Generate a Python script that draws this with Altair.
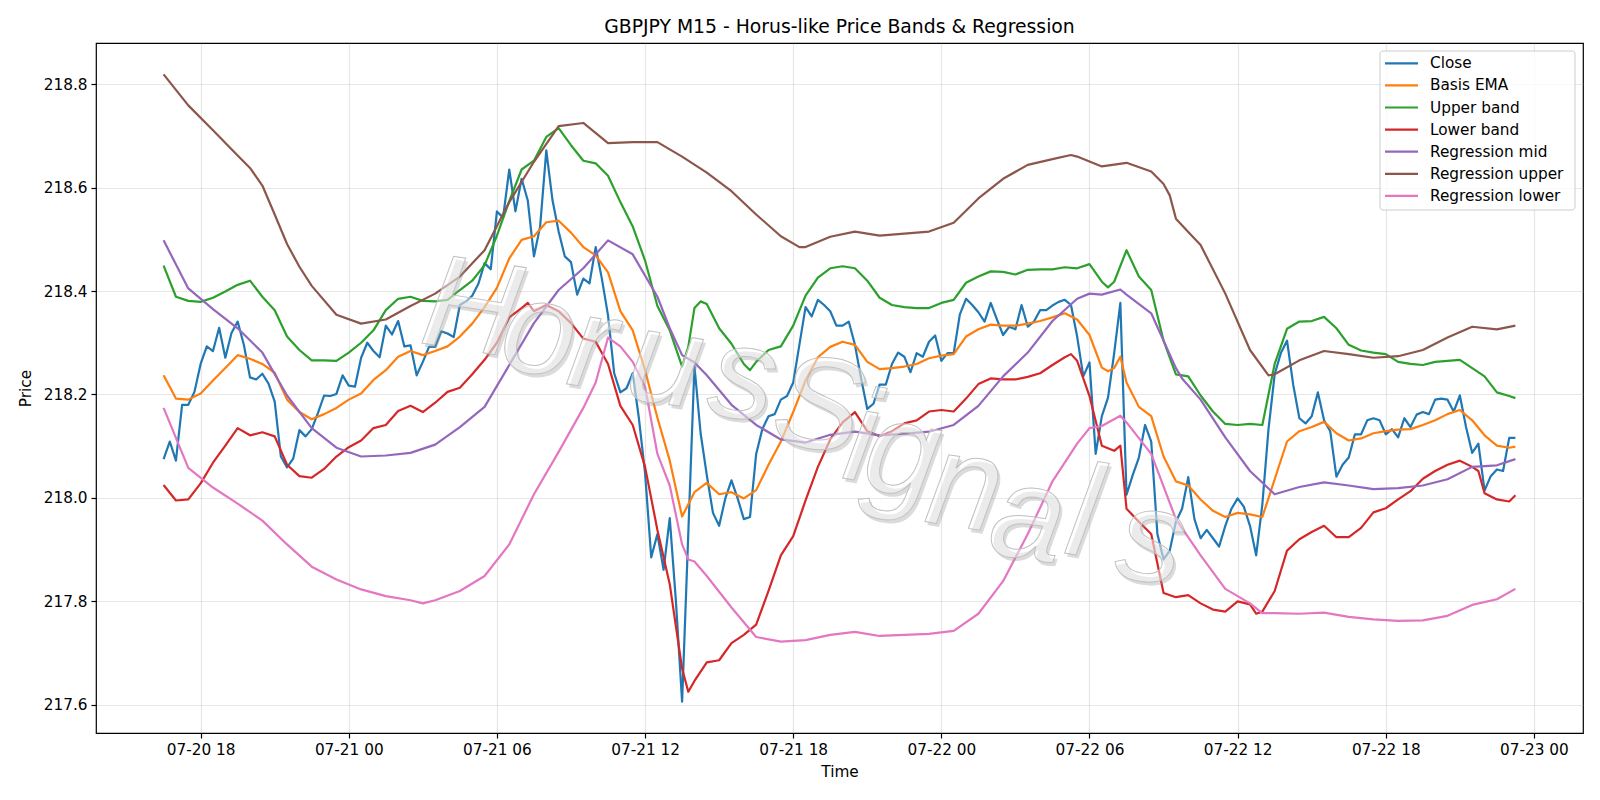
import altair as alt
import pandas as pd

# 15-minute bars, first bar at 07-20 16:30
START = pd.Timestamp("2025-07-20 16:30")
STEP = pd.Timedelta(minutes=15)

close = [
    218.075, 218.109, 218.072, 218.180, 218.180, 218.205, 218.259, 218.293, 218.284, 218.329,
    218.271, 218.319, 218.341, 218.296, 218.233, 218.229, 218.240, 218.221, 218.186, 218.080,
    218.059, 218.076, 218.131, 218.119, 218.133, 218.164, 218.198, 218.197, 218.201, 218.237,
    218.217, 218.215, 218.271, 218.300, 218.284, 218.272, 218.333, 218.316, 218.342, 218.293,
    218.295, 218.237, 218.263, 218.292, 218.292, 218.322, 218.318, 218.311, 218.373, 218.380,
    218.391, 218.414, 218.454, 218.442, 218.554, 218.542, 218.635, 218.554, 218.617, 218.575,
    218.467, 218.525, 218.672, 218.576, 218.515, 218.467, 218.456, 218.393, 218.424, 218.415,
    218.485, 218.424, 218.353, 218.241, 218.204, 218.212, 218.241, 218.154, 218.048, 217.885,
    217.930, 217.861, 217.961, 217.800, 217.606, 217.930, 218.255, 218.125, 218.044, 217.971,
    217.946, 217.999, 218.034, 217.999, 217.959, 217.963, 218.085, 218.133, 218.158, 218.162,
    218.190, 218.197, 218.223, 218.296, 218.369, 218.351, 218.383, 218.373, 218.361, 218.333,
    218.333, 218.341, 218.296, 218.231, 218.172, 218.182, 218.219, 218.219, 218.259, 218.281,
    218.273, 218.243, 218.280, 218.273, 218.302, 218.314, 218.265, 218.280, 218.280, 218.355,
    218.385, 218.373, 218.359, 218.341, 218.377, 218.345, 218.315, 218.331, 218.326, 218.373,
    218.331, 218.341, 218.363, 218.363, 218.372, 218.379, 218.383, 218.373, 218.312, 218.235,
    218.262, 218.085, 218.158, 218.194, 218.280, 218.377, 218.006, 218.044, 218.078, 218.141,
    218.109, 217.930, 217.881, 217.898, 217.954, 217.979, 218.040, 217.959, 217.922, 217.938,
    217.922, 217.906, 217.946, 217.979, 217.999, 217.983, 217.946, 217.889, 217.987, 218.133,
    218.239, 218.280, 218.304, 218.219, 218.154, 218.144, 218.158, 218.204, 218.150, 218.129,
    218.041, 218.064, 218.078, 218.123, 218.123, 218.150, 218.154, 218.150, 218.123, 218.133,
    218.117, 218.154, 218.137, 218.161, 218.166, 218.162, 218.190, 218.192, 218.190, 218.167,
    218.198, 218.137, 218.087, 218.105, 218.014, 218.042, 218.055, 218.052, 218.116, 218.116,
]
close_bars = list(range(len(close)))

ema_bars = [
    0, 2, 4, 6, 8, 10, 12, 14, 16, 18, 20, 22, 24, 26, 28, 30, 32, 34, 36, 38,
    40, 42, 44, 46, 48, 50, 52, 54, 56, 58, 60, 62, 64, 66, 68, 70, 72, 74, 76, 78,
    80, 82, 84, 86, 88, 90, 92, 94, 96, 98, 100, 102, 104, 106, 108, 110, 112, 114, 116, 118,
    120, 122, 124, 126, 128, 130, 132, 134, 136, 138, 140, 142, 144, 146, 148, 150, 152, 153, 154, 155,
    156, 158, 160, 162, 164, 166, 168, 170, 172, 174, 176, 178, 180, 182, 184, 186, 188, 190, 192, 194,
    196, 198, 200, 202, 204, 206, 208, 210, 212, 214, 216, 218, 219,
]
ema = [
    218.237, 218.192, 218.190, 218.202, 218.227, 218.251, 218.276, 218.269, 218.259, 218.242,
    218.190, 218.166, 218.152, 218.162, 218.174, 218.190, 218.202, 218.228, 218.247, 218.273,
    218.284, 218.276, 218.284, 218.293, 218.312, 218.337, 218.369, 218.406, 218.463, 218.499,
    218.506, 218.533, 218.536, 218.513, 218.485, 218.469, 218.436, 218.361, 218.324, 218.247,
    218.155, 218.072, 217.964, 218.011, 218.029, 218.007, 218.011, 217.999, 218.015, 218.064,
    218.109, 218.166, 218.227, 218.272, 218.292, 218.302, 218.296, 218.263, 218.249, 218.251,
    218.254, 218.259, 218.270, 218.275, 218.278, 218.312, 218.326, 218.335, 218.333, 218.333,
    218.337, 218.342, 218.349, 218.357, 218.345, 218.315, 218.252, 218.245, 218.251, 218.273,
    218.223, 218.176, 218.158, 218.080, 218.032, 218.024, 217.997, 217.975, 217.963, 217.971,
    217.968, 217.963, 218.036, 218.109, 218.129, 218.137, 218.147, 218.125, 218.111, 218.115,
    218.125, 218.129, 218.132, 218.133, 218.141, 218.150, 218.162, 218.170, 218.150, 218.121,
    218.101, 218.097, 218.099,
]

upper_bars = [
    0, 2, 4, 6, 8, 10, 12, 14, 16, 18, 20, 22, 24, 26, 28, 30, 32, 34, 36, 38,
    40, 42, 44, 46, 48, 50, 52, 54, 56, 58, 60, 62, 64, 66, 68, 70, 72, 74, 76, 78,
    80, 82, 84, 85, 86, 87, 88, 90, 92, 94, 95, 96, 98, 100, 102, 104, 106, 108, 110, 112,
    114, 116, 118, 120, 122, 124, 126, 128, 130, 132, 134, 136, 138, 140, 142, 144, 146, 148, 150, 152,
    153, 154, 156, 158, 160, 162, 164, 166, 168, 170, 172, 174, 176, 178, 180, 182, 184, 186, 188, 190,
    192, 194, 196, 198, 200, 202, 204, 206, 208, 210, 212, 214, 216, 218, 219,
]
upper = [
    218.449, 218.389, 218.381, 218.379, 218.387, 218.399, 218.412, 218.420, 218.389, 218.363,
    218.312, 218.286, 218.266, 218.266, 218.265, 218.281, 218.300, 218.324, 218.363, 218.385,
    218.389, 218.381, 218.380, 218.383, 218.402, 218.420, 218.450, 218.507, 218.574, 218.635,
    218.652, 218.698, 218.715, 218.682, 218.652, 218.647, 218.623, 218.572, 218.525, 218.459,
    218.371, 218.324, 218.254, 218.292, 218.367, 218.380, 218.375, 218.328, 218.298, 218.259,
    218.247, 218.263, 218.286, 218.293, 218.333, 218.391, 218.426, 218.444, 218.448, 218.444,
    218.420, 218.387, 218.373, 218.369, 218.367, 218.367, 218.377, 218.383, 218.416, 218.428,
    218.438, 218.437, 218.432, 218.441, 218.442, 218.442, 218.446, 218.444, 218.452, 218.418,
    218.407, 218.418, 218.479, 218.428, 218.402, 218.304, 218.239, 218.235, 218.198, 218.167,
    218.143, 218.141, 218.143, 218.141, 218.259, 218.327, 218.341, 218.342, 218.350, 218.328,
    218.296, 218.285, 218.281, 218.278, 218.263, 218.259, 218.257, 218.263, 218.265, 218.267,
    218.251, 218.235, 218.204, 218.197, 218.193,
]

lower_bars = [
    0, 2, 4, 6, 8, 10, 12, 14, 16, 18, 20, 22, 24, 26, 28, 30, 32, 34, 36, 38,
    40, 42, 44, 46, 48, 50, 52, 54, 56, 58, 59, 60, 62, 64, 66, 68, 70, 72, 74, 76,
    78, 80, 82, 84, 85, 86, 88, 90, 92, 94, 96, 98, 100, 102, 104, 106, 108, 110, 112, 114,
    116, 118, 120, 122, 124, 126, 128, 130, 132, 134, 136, 138, 140, 142, 144, 146, 147, 148, 150, 152,
    154, 155, 156, 158, 160, 162, 164, 166, 168, 170, 172, 174, 176, 177, 178, 180, 182, 184, 186, 188,
    190, 192, 194, 196, 198, 200, 202, 204, 206, 208, 210, 212, 213, 214, 216, 218, 219,
]
lower = [
    218.025, 217.995, 217.997, 218.028, 218.068, 218.101, 218.135, 218.121, 218.127, 218.119,
    218.064, 218.042, 218.039, 218.056, 218.080, 218.098, 218.111, 218.135, 218.141, 218.168,
    218.178, 218.166, 218.184, 218.205, 218.213, 218.239, 218.267, 218.300, 218.349, 218.367,
    218.377, 218.361, 218.373, 218.361, 218.338, 218.308, 218.302, 218.259, 218.178, 218.141,
    218.060, 217.938, 217.833, 217.670, 217.625, 217.646, 217.682, 217.686, 217.719, 217.735,
    217.755, 217.820, 217.889, 217.926, 217.995, 218.060, 218.113, 218.146, 218.166, 218.129,
    218.119, 218.129, 218.144, 218.150, 218.167, 218.170, 218.167, 218.192, 218.220, 218.231,
    218.229, 218.229, 218.234, 218.241, 218.257, 218.272, 218.278, 218.265, 218.197, 218.101,
    218.091, 218.101, 217.979, 217.954, 217.930, 217.816, 217.808, 217.812, 217.796, 217.784,
    217.780, 217.800, 217.794, 217.776, 217.780, 217.820, 217.898, 217.920, 217.934, 217.946,
    217.924, 217.924, 217.942, 217.972, 217.980, 217.997, 218.013, 218.037, 218.052, 218.064,
    218.072, 218.060, 218.052, 218.009, 217.997, 217.993, 218.005,
]

reg_mid_bars = [
    0, 4, 8, 12, 16, 20, 24, 28, 32, 36, 40, 44, 48, 52, 56, 60, 64, 68, 72, 76,
    80, 82, 84, 86, 88, 92, 96, 100, 104, 108, 112, 116, 120, 124, 128, 132, 136, 140, 144, 148,
    150, 152, 155, 156, 160, 164, 165, 168, 172, 176, 180, 184, 188, 192, 196, 200, 204, 208, 212, 216,
    219,
]
reg_mid = [
    218.498, 218.405, 218.365, 218.328, 218.281, 218.198, 218.135, 218.097, 218.080, 218.082,
    218.087, 218.103, 218.137, 218.176, 218.257, 218.338, 218.402, 218.444, 218.498, 218.471,
    218.389, 218.328, 218.276, 218.262, 218.237, 218.180, 218.141, 218.113, 218.107, 218.122,
    218.128, 218.121, 218.124, 218.128, 218.141, 218.178, 218.235, 218.281, 218.342, 218.385,
    218.395, 218.393, 218.403, 218.393, 218.357, 218.251, 218.231, 218.190, 218.117, 218.052,
    218.007, 218.021, 218.030, 218.024, 218.017, 218.019, 218.024, 218.036, 218.060, 218.063,
    218.075,
]

reg_up_bars = [
    0, 4, 8, 12, 14, 16, 18, 20, 22, 24, 28, 32, 36, 40, 44, 48, 52, 56, 60, 64,
    68, 72, 76, 80, 84, 88, 92, 96, 100, 103, 104, 108, 112, 116, 120, 124, 128, 132, 136, 140,
    144, 147, 148, 152, 156, 160, 162, 163, 164, 166, 168, 172, 176, 179, 180, 184, 188, 192, 196, 200,
    204, 208, 212, 216, 219,
]
reg_up = [
    218.819, 218.759, 218.711, 218.662, 218.638, 218.604, 218.548, 218.491, 218.447, 218.410,
    218.354, 218.337, 218.345, 218.371, 218.395, 218.428, 218.479, 218.572, 218.650, 218.719,
    218.725, 218.686, 218.688, 218.688, 218.660, 218.629, 218.593, 218.548, 218.506, 218.485,
    218.485, 218.505, 218.515, 218.507, 218.511, 218.515, 218.532, 218.579, 218.617, 218.644,
    218.655, 218.663, 218.660, 218.641, 218.648, 218.631, 218.607, 218.585, 218.540, 218.514,
    218.489, 218.395, 218.286, 218.237, 218.239, 218.266, 218.284, 218.278, 218.271, 218.274,
    218.286, 218.310, 218.331, 218.326, 218.333,
]

reg_lo_bars = [
    0, 4, 8, 12, 16, 20, 24, 28, 32, 36, 40, 42, 44, 48, 52, 56, 60, 64, 68, 70,
    72, 74, 76, 78, 80, 82, 84, 85, 86, 88, 92, 96, 100, 104, 108, 112, 116, 120, 124, 128,
    132, 136, 140, 144, 148, 150, 152, 155, 156, 160, 164, 168, 172, 176, 178, 180, 184, 188, 192, 196,
    200, 204, 208, 212, 216, 219,
]
reg_lo = [
    218.174, 218.058, 218.020, 217.989, 217.956, 217.910, 217.867, 217.842, 217.823, 217.810,
    217.802, 217.796, 217.802, 217.820, 217.849, 217.910, 218.007, 218.089, 218.174, 218.223,
    218.310, 218.293, 218.263, 218.215, 218.085, 218.024, 217.910, 217.881, 217.877, 217.849,
    217.788, 217.731, 217.722, 217.725, 217.735, 217.741, 217.733, 217.735, 217.737, 217.743,
    217.776, 217.839, 217.930, 218.032, 218.105, 218.135, 218.139, 218.159, 218.146, 218.085,
    217.959, 217.889, 217.824, 217.796, 217.777, 217.777, 217.776, 217.778, 217.770, 217.765,
    217.762, 217.763, 217.772, 217.793, 217.804, 217.824,
]

SERIES = [
    ("Close", close_bars, close, "#1f77b4"),
    ("Basis EMA", ema_bars, ema, "#ff7f0e"),
    ("Upper band", upper_bars, upper, "#2ca02c"),
    ("Lower band", lower_bars, lower, "#d62728"),
    ("Regression mid", reg_mid_bars, reg_mid, "#9467bd"),
    ("Regression upper", reg_up_bars, reg_up, "#8c564b"),
    ("Regression lower", reg_lo_bars, reg_lo, "#e377c2"),
]
for name, bars, vals, _ in SERIES:
    assert len(bars) == len(vals), name

FONT = "DejaVu Sans"
W, H = 1487, 690
LABEL_SIZE = 15.3
LINE_W = 2.2


def dt(ts):
    return alt.DateTime(year=ts.year, month=ts.month, date=ts.day,
                        hours=ts.hour, minutes=ts.minute, seconds=ts.second)


# 5% margins around the data, on both axes
t_first = START
t_last = START + STEP * max(max(b) for _, b, _, _ in SERIES)
t_pad = (t_last - t_first) * 0.05
all_vals = [v for _, _, vals, _ in SERIES for v in vals]
y_lo, y_hi = min(all_vals), max(all_vals)
y_pad = (y_hi - y_lo) * 0.05

x_ticks = [pd.Timestamp("2025-07-20 18:00") + pd.Timedelta(hours=6 * k) for k in range(10)]
y_ticks = [217.6, 217.8, 218.0, 218.2, 218.4, 218.6, 218.8]

x_enc = alt.X(
    "time:T",
    title="Time",
    scale=alt.Scale(domain=[dt(t_first - t_pad), dt(t_last + t_pad)], nice=False),
    axis=alt.Axis(values=[dt(t) for t in x_ticks], format="%m-%d %H", labelOverlap=False,
                  titlePadding=7),
)
y_enc = alt.Y(
    "price:Q",
    title="Price",
    scale=alt.Scale(domain=[y_lo - y_pad, y_hi + y_pad], zero=False, nice=False),
    axis=alt.Axis(values=y_ticks, format=".1f", titlePadding=10),
)

layers = []
for name, bars, vals, color in SERIES:
    df = pd.DataFrame({"time": [START + STEP * b for b in bars], "price": vals})
    layers.append(
        alt.Chart(df).mark_line(color=color, strokeWidth=LINE_W, strokeJoin="round", clip=True)
        .encode(x=x_enc, y=y_enc)
    )

# Watermark "HorusSignals": letters stepped down a slanted baseline,
# each drawn as a soft grey shadow under a translucent white face.
WM_FONT = "Liberation Sans"
WM_SIZE = 132
WM_ANGLE = 9
wm_letters = ["H", "o", "r", "u", "s", "S", "i", "g", "n", "a", "l", "s"]
wm_x = [369, 437, 490, 563, 641, 716, 759, 800, 863, 926, 981, 1049]
wm_y = [307, 330, 344, 360, 375, 405, 437, 451, 484, 515, 512, 538]
for ch, px, py in zip(wm_letters, wm_x, wm_y):
    glyph = pd.DataFrame({"t": [ch]})
    layers.append(
        alt.Chart(glyph).mark_text(
            font=WM_FONT, fontSize=WM_SIZE, fontStyle="italic", angle=WM_ANGLE,
            align="center", baseline="alphabetic", fill="#9c9c9c", opacity=0.36, dx=3, dy=3,
        ).encode(x=alt.value(px), y=alt.value(py), text="t:N")
    )
    layers.append(
        alt.Chart(glyph).mark_text(
            font=WM_FONT, fontSize=WM_SIZE, fontStyle="italic", angle=WM_ANGLE,
            align="center", baseline="alphabetic", fill="white", fillOpacity=0.45,
            stroke="#c2c2c2", strokeWidth=1.0,
        ).encode(x=alt.value(px), y=alt.value(py), text="t:N")
    )

# Legend box in the upper right corner
one = pd.DataFrame({"k": [0]})
layers.append(
    alt.Chart(one).mark_rect(
        fill="white", fillOpacity=0.8, stroke="#cccccc", strokeWidth=1, cornerRadius=3,
    ).encode(x=alt.value(1284), x2=alt.value(1479), y=alt.value(8), y2=alt.value(167))
)
for i, (name, _, _, color) in enumerate(SERIES):
    ypix = 20.3 + 22.1 * i
    row = pd.DataFrame({"label": [name]})
    layers.append(
        alt.Chart(row).mark_rule(color=color, strokeWidth=LINE_W)
        .encode(x=alt.value(1289), x2=alt.value(1322), y=alt.value(ypix))
    )
    layers.append(
        alt.Chart(row).mark_text(font=FONT, fontSize=LABEL_SIZE, color="black",
                                 align="left", baseline="middle")
        .encode(x=alt.value(1334), y=alt.value(ypix), text="label:N")
    )

chart = (
    alt.layer(*layers)
    .properties(
        width=W,
        height=H,
        title=alt.TitleParams(
            "GBPJPY M15 - Horus-like Price Bands & Regression",
            font=FONT, fontSize=18.8, fontWeight="normal", color="black",
            anchor="middle", offset=6,
        ),
        padding={"left": 96, "top": 43, "right": 17, "bottom": 67},
        autosize=alt.AutoSizeParams(type="none"),
    )
    .configure(background="white")
    .configure_view(stroke="black", strokeWidth=1.2)
    .configure_axis(
        labelFont=FONT, labelFontSize=LABEL_SIZE, labelColor="black",
        titleFont=FONT, titleFontSize=LABEL_SIZE, titleFontWeight="normal", titleColor="black",
        domain=False, tickColor="black", tickSize=5, tickWidth=1.2, labelPadding=4,
        grid=True, gridColor="#b0b0b0", gridOpacity=0.3, gridWidth=1.2,
    )
)

chart.save("out.html", embed_options={"renderer": "svg", "actions": False})
